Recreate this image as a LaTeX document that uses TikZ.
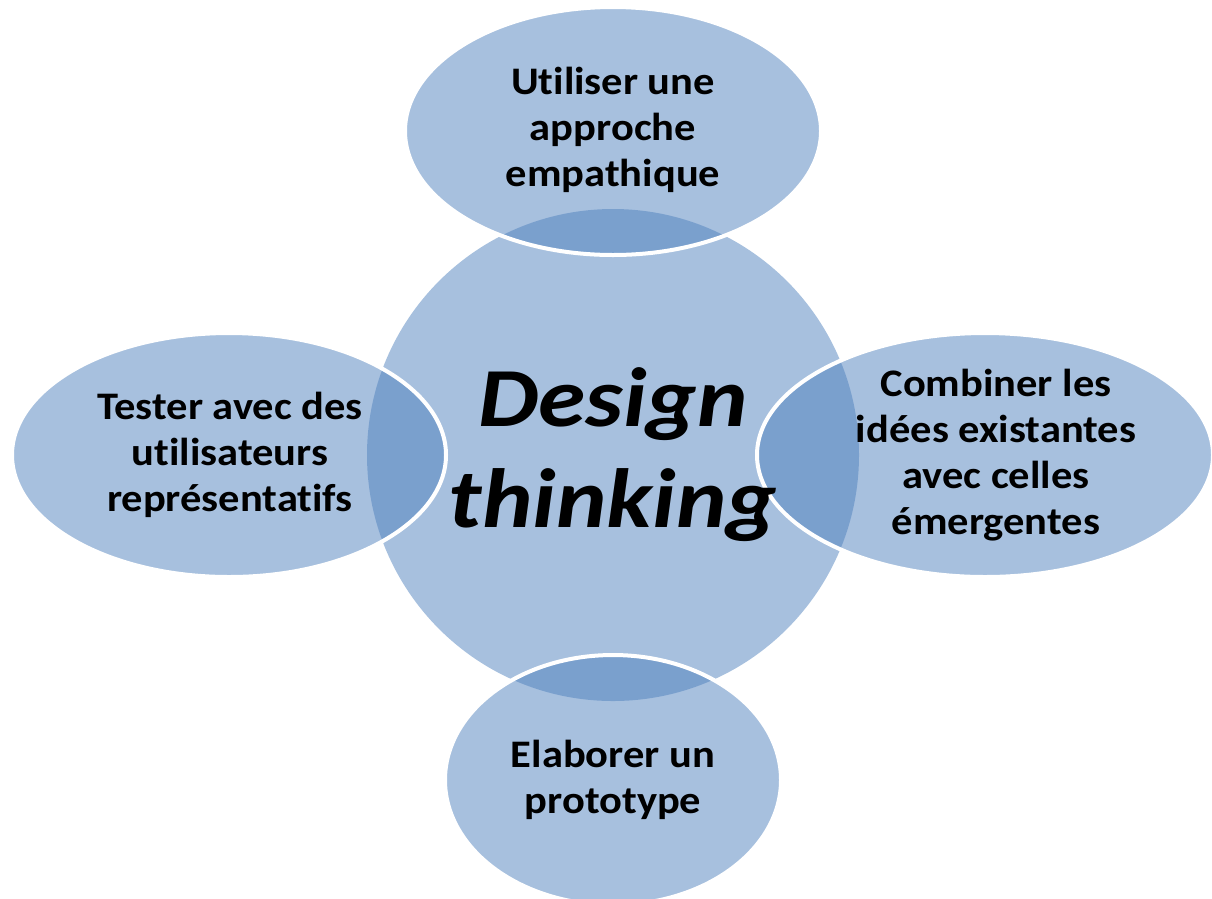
\documentclass[tikz,border=0pt]{standalone}
\usepackage{fontspec}
\setmainfont{Carlito}[Ligatures=NoCommon]
\newfontfamily\petalfont{Carlito}[Ligatures=NoCommon, FakeStretch=1.09]
\newfontfamily\hubfont{Carlito}[Ligatures=NoCommon, FakeStretch=1.14]
\usetikzlibrary{shapes.geometric}
\definecolor{officeblue}{HTML}{4F81BD}
\tikzset{
  hub/.style={circle, fill=officeblue, fill opacity=0.5, draw=none, inner sep=0pt, minimum size=492pt},
  petal/.style={ellipse, fill=officeblue, fill opacity=0.5, draw=white, draw opacity=1, line width=4pt, inner sep=0pt},
  petaltext/.style={align=center, font=\petalfont\fontsize{39}{46}\selectfont\bfseries, text=black, inner sep=0pt},
  hubtext/.style={align=center, font=\hubfont\fontsize{84}{101}\selectfont\bfseries\itshape, text=black, inner sep=0pt}
}
\begin{document}
\begin{tikzpicture}[x=1pt,y=-1pt]
\useasboundingbox (0,0) rectangle (1212,898);
\begin{scope}
\clip (0,0) rectangle (1212,898);
\node[hub] (hub) at (613,455) {};
\node[petal, minimum width=416pt, minimum height=248pt] (top) at (613,131) {};
\node[petal, minimum width=434pt, minimum height=244pt] (left) at (229,455) {};
\node[petal, minimum width=456pt, minimum height=244pt] (right) at (985,455) {};
\node[petal, minimum width=336pt, minimum height=250pt] (bottom) at (613,780) {};
\end{scope}
\node[hubtext] (hubt) at (613,455) {Design\\thinking};
\node[petaltext] (topt) at (613,130) {Utiliser une\\approche\\empathique};
\node[petaltext] (leftt) at (230,455) {Tester avec des\\utilisateurs\\représentatifs};
\node[petaltext] (rightt) at (996,455) {Combiner les\\idées existantes\\avec celles\\émergentes};
\node[petaltext] (bottomt) at (613,780) {Elaborer un\\prototype};
\end{tikzpicture}
\end{document}
